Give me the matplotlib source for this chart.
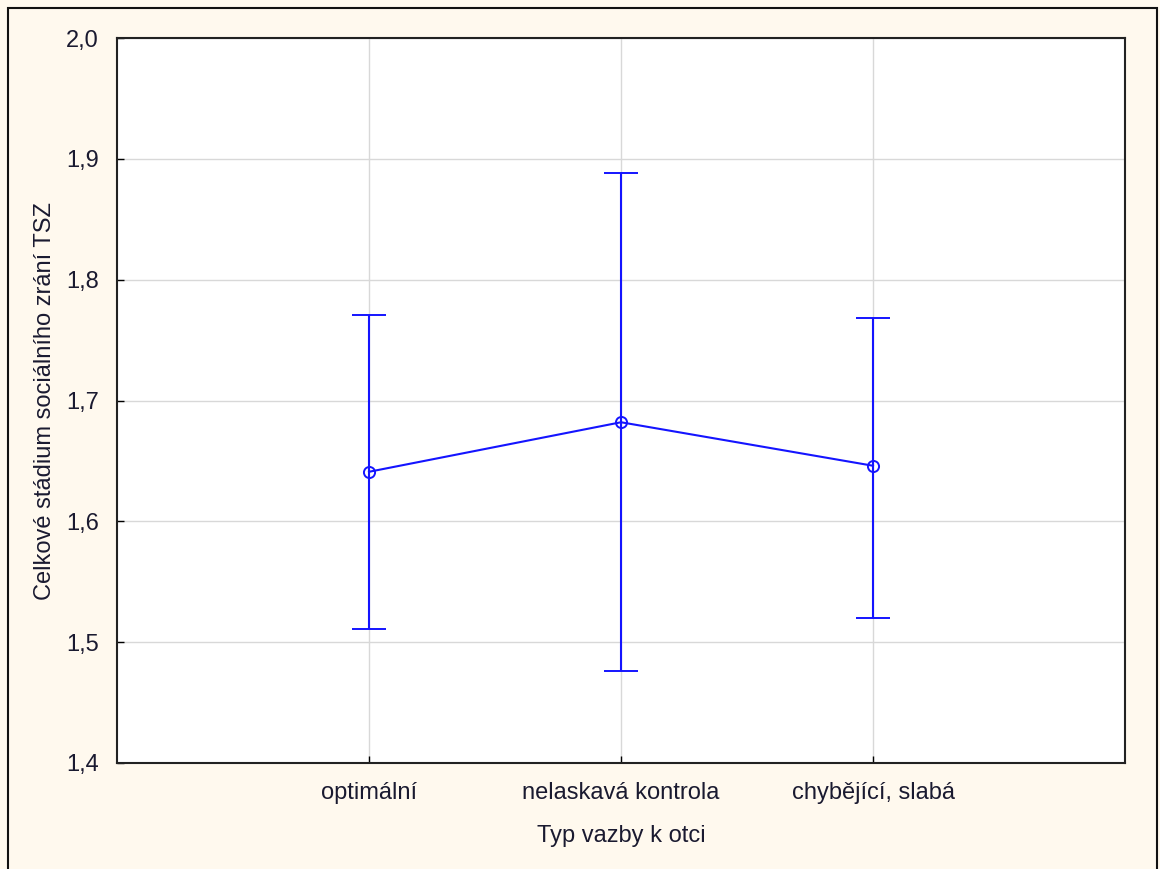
import matplotlib
matplotlib.use("Agg")
import matplotlib.pyplot as plt
from matplotlib.patches import Rectangle
from matplotlib.ticker import FuncFormatter

categories = ["optimální", "nelaskavá kontrola", "chybějící, slabá"]
means = [1.641, 1.682, 1.646]
upper = [1.771, 1.888, 1.768]
lower = [1.511, 1.476, 1.520]
yticks = [1.4, 1.5, 1.6, 1.7, 1.8, 1.9, 2.0]

plt.rcParams['font.family'] = ['Liberation Sans', 'DejaVu Sans']
W, H = 1160, 869
fig = plt.figure(figsize=(W / 100, H / 100), dpi=100, facecolor='#FFF9EE')
ax = fig.add_axes([117 / W, 1 - 763 / H, (1125 - 117) / W, (763 - 38) / H])
ax.set_facecolor('white')

x = list(range(1, len(categories) + 1))
yerr = [[m - l for m, l in zip(means, lower)], [u - m for m, u in zip(means, upper)]]
ax.errorbar(x, means, yerr=yerr, color='#1414FF', lw=1.5, marker='o', ms=8,
            mfc='none', mec='#1414FF', mew=1.4, capsize=12, capthick=1.5, zorder=3)

ax.set_xlim(0, len(categories) + 1)
ax.set_ylim(1.4, 2.0)
ax.set_xticks(x)
ax.set_xticklabels(categories)
ax.set_yticks(yticks)
ax.yaxis.set_major_formatter(FuncFormatter(lambda v, p: f"{v:.1f}".replace('.', ',')))
ax.grid(True, color='#D8D8D8', lw=1)
ax.set_axisbelow(True)
ax.tick_params(axis='both', direction='in', length=5, width=1, colors='black',
               labelcolor='#1a1a30', labelsize=17)
ax.tick_params(axis='x', pad=14)
ax.tick_params(axis='y', pad=13)
for s in ax.spines.values():
    s.set_linewidth(1.5)
    s.set_color('#222222')

ax.set_xlabel("Typ vazby k otci", fontsize=17, color='#1a1a30', labelpad=15)
ax.set_ylabel("Celkové stádium sociálního zrání TSZ", fontsize=17, color='#1a1a30', labelpad=7)

fig.patches.append(Rectangle((8 / W, -0.01), (1157 - 8) / W, 1 - 8 / H + 0.01,
                             transform=fig.transFigure, fill=False, ec='#111111', lw=1.5))

fig.savefig("out.png", dpi=100, facecolor=fig.get_facecolor())
